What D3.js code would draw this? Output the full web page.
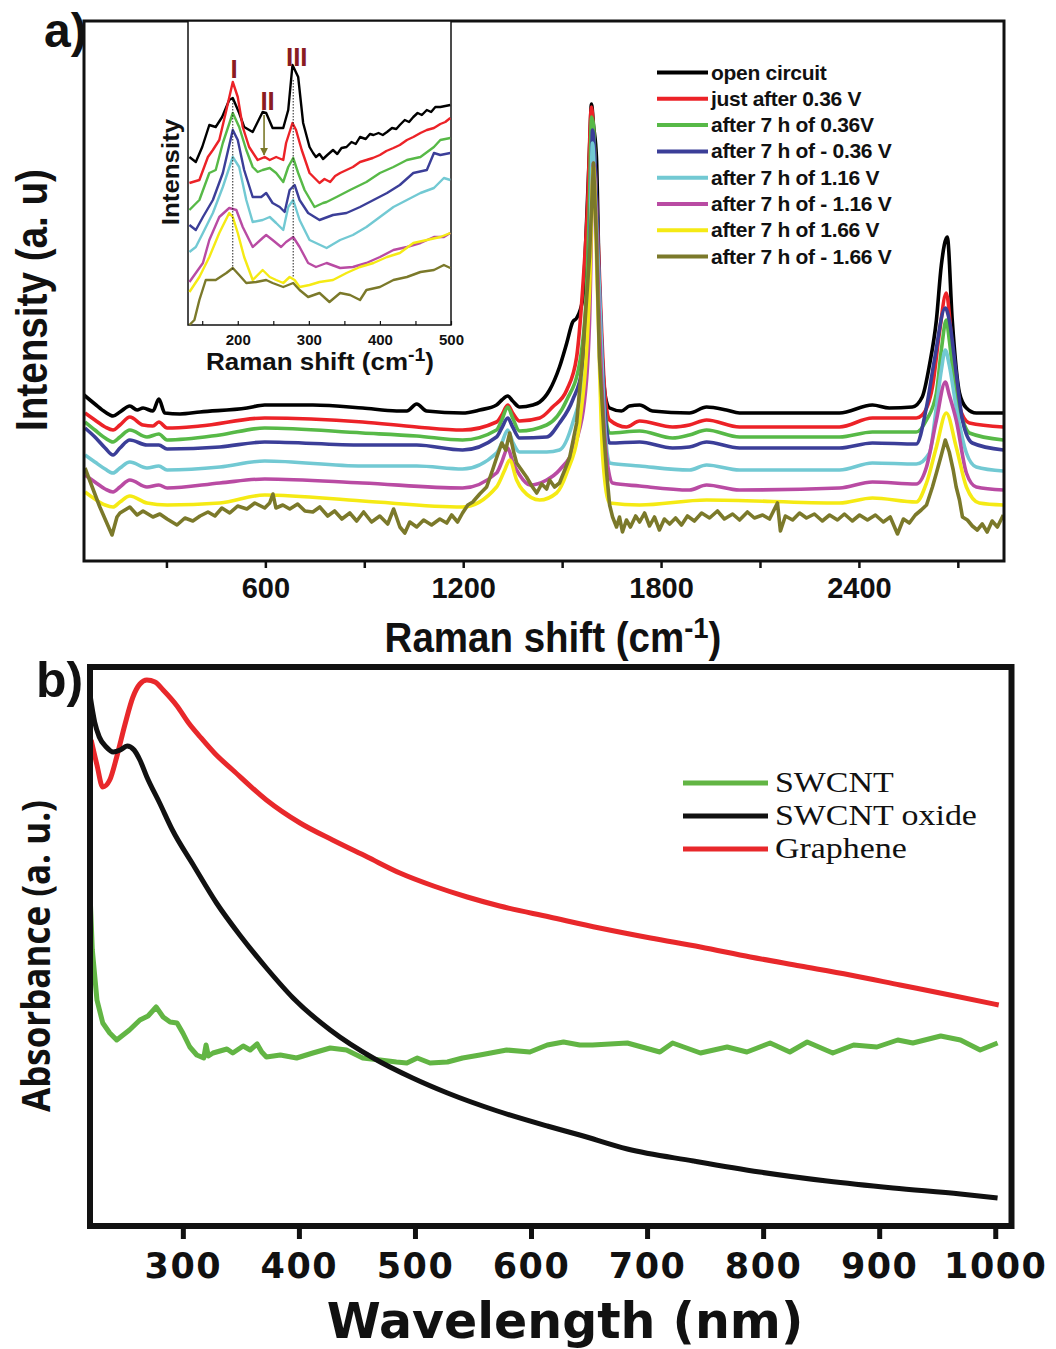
<!DOCTYPE html>
<html>
<head>
<meta charset="utf-8">
<script src="https://cdn.jsdelivr.net/npm/d3@7"></script>
<style>
  body { margin: 0; background: #fff; }
  svg text { font-family: "Liberation Sans", Arial, sans-serif; font-weight: bold; fill: #111; }
</style>
</head>
<body>
<svg id="fig" width="1056" height="1349"></svg>
<script>
// ---------------- Panel a: Raman spectra, [wavenumber cm-1, intensity a.u.] ----------------
const ramanOpenCircuit = [[50,166],[83,157],[114,149],[138,145],[159,149],[189,155],[211,151],[229,153],[259,150],[277,162],[295,148],[341,147],[402,149],[544,153],[598,156],[744,156],[895,153],[998,150],[1029,150],[1059,157],[1089,150],[1198,148],[1250,151],[1301,156],[1317,161],[1335,165],[1350,160],[1371,154],[1411,156],[1432,159],[1462,171],[1492,194],[1514,218],[1532,239],[1544,243],[1562,261],[1574,338],[1583,411],[1589,457],[1595,436],[1604,404],[1613,271],[1623,194],[1632,163],[1644,153],[1680,150],[1704,155],[1735,156],[1774,150],[1886,148],[1938,154],[1998,151],[2038,148],[2341,148],[2441,156],[2492,153],[2562,154],[2592,164],[2614,196],[2635,241],[2650,296],[2668,324],[2683,241],[2705,168],[2726,153],[2756,148],[2838,148]];
const ramanJustAfter036 = [[53,148],[83,141],[114,134],[138,131],[159,136],[189,144],[229,136],[259,135],[277,139],[302,133],[402,135],[598,143],[895,139],[1059,134],[1198,131],[1301,139],[1317,146],[1335,156],[1350,148],[1371,140],[1432,143],[1471,154],[1514,171],[1544,204],[1562,271],[1577,354],[1589,454],[1595,431],[1607,338],[1629,171],[1644,141],[1695,134],[1735,140],[1835,134],[1886,136],[1938,141],[2038,134],[2341,134],[2441,143],[2574,143],[2592,146],[2623,174],[2644,228],[2665,268],[2683,214],[2705,154],[2735,138],[2838,134]];
const ramanAfter7h036 = [[53,139],[83,131],[114,123],[138,119],[159,124],[189,131],[241,124],[277,127],[302,121],[462,126],[598,133],[895,128],[1059,125],[1198,121],[1301,131],[1317,141],[1335,154],[1350,143],[1371,130],[1453,136],[1514,161],[1553,198],[1574,271],[1583,361],[1589,444],[1595,436],[1607,304],[1629,154],[1644,128],[1735,130],[1835,123],[1886,126],[1938,131],[2038,124],[2341,124],[2441,129],[2574,129],[2605,141],[2635,168],[2650,211],[2665,241],[2674,221],[2695,161],[2714,141],[2735,128],[2838,121]];
const ramanAfter7hM036 = [[53,133],[83,124],[114,113],[138,106],[159,113],[189,121],[241,116],[277,116],[302,112],[462,114],[598,119],[895,116],[1059,116],[1198,111],[1301,124],[1317,133],[1335,143],[1350,134],[1371,123],[1453,124],[1492,138],[1532,161],[1562,194],[1580,271],[1589,391],[1592,431],[1601,391],[1610,304],[1629,154],[1644,118],[1735,119],[1835,113],[1886,114],[1938,119],[2038,113],[2341,113],[2441,118],[2574,117],[2605,154],[2629,201],[2662,253],[2674,241],[2695,188],[2714,141],[2744,118],[2838,111]];
const ramanAfter7h116 = [[53,106],[83,99],[114,92],[138,88],[159,93],[189,99],[241,93],[277,95],[302,91],[462,94],[598,100],[895,95],[1059,95],[1198,92],[1301,108],[1317,118],[1335,131],[1350,119],[1371,109],[1453,109],[1492,111],[1532,138],[1574,204],[1583,281],[1592,418],[1601,361],[1613,271],[1629,138],[1644,98],[1735,95],[1886,91],[1938,96],[2038,91],[2341,91],[2441,98],[2574,97],[2614,108],[2635,154],[2650,191],[2662,211],[2674,196],[2695,154],[2726,108],[2756,94],[2838,90]];
const ramanAfter7hM116 = [[53,86],[83,79],[114,72],[138,69],[159,74],[189,81],[241,74],[277,76],[302,73],[462,78],[598,82],[895,78],[1198,73],[1301,88],[1317,99],[1335,113],[1350,99],[1371,86],[1402,76],[1453,81],[1492,91],[1544,121],[1574,181],[1583,238],[1595,398],[1604,331],[1613,238],[1635,104],[1653,78],[1735,75],[1886,71],[1938,76],[2038,71],[2341,73],[2441,79],[2574,77],[2605,94],[2635,141],[2662,179],[2674,166],[2695,141],[2726,88],[2756,74],[2838,71]];
const ramanAfter7h166 = [[53,69],[83,62],[114,56],[138,54],[159,59],[189,65],[241,58],[302,56],[462,58],[598,66],[895,60],[1198,54],[1301,74],[1326,91],[1341,101],[1362,81],[1380,71],[1432,61],[1483,68],[1514,88],[1553,138],[1583,271],[1595,394],[1607,271],[1623,104],[1644,58],[1735,56],[1938,61],[2341,58],[2441,63],[2574,59],[2605,78],[2635,114],[2665,148],[2695,114],[2726,74],[2765,58],[2838,56]];
const ramanAfter7hM166 = [[53,93],[98,54],[135,26],[150,44],[159,48],[189,54],[211,46],[229,50],[259,44],[280,47],[302,42],[332,36],[356,43],[380,40],[402,45],[426,49],[447,45],[468,53],[492,48],[516,55],[544,52],[568,58],[598,53],[613,58],[623,67],[632,53],[653,56],[674,52],[698,57],[720,50],[744,49],[765,54],[789,45],[810,50],[832,42],[856,48],[877,40],[898,49],[922,39],[947,45],[971,37],[989,52],[1008,34],[1023,28],[1038,39],[1059,34],[1080,41],[1104,36],[1129,42],[1150,38],[1165,46],[1183,39],[1198,48],[1214,56],[1229,59],[1250,67],[1271,74],[1289,91],[1301,103],[1317,118],[1329,111],[1341,128],[1353,109],[1362,98],[1377,91],[1392,84],[1408,75],[1423,68],[1438,77],[1453,72],[1462,81],[1477,74],[1492,78],[1508,91],[1523,104],[1544,138],[1562,204],[1583,304],[1595,398],[1604,321],[1613,204],[1626,131],[1635,88],[1644,56],[1653,44],[1665,34],[1674,44],[1683,29],[1695,41],[1707,34],[1723,45],[1735,39],[1750,48],[1765,35],[1780,44],[1795,31],[1810,42],[1826,37],[1844,43],[1862,36],[1880,45],[1901,40],[1923,48],[1947,43],[1971,50],[1992,42],[2017,47],[2038,41],[2062,49],[2083,43],[2108,46],[2129,42],[2153,58],[2162,30],[2177,45],[2199,41],[2220,48],[2241,43],[2265,47],[2289,40],[2311,46],[2335,41],[2356,47],[2380,40],[2402,46],[2426,41],[2450,46],[2474,39],[2495,44],[2517,27],[2535,42],[2553,38],[2571,46],[2589,51],[2605,56],[2623,74],[2635,88],[2650,106],[2662,121],[2674,109],[2686,91],[2695,74],[2705,61],[2714,44],[2729,41],[2744,35],[2759,31],[2774,37],[2789,29],[2804,40],[2820,34],[2838,46]];

const ramanNames = ["open circuit", "just after 0.36 V", "after 7 h of 0.36V", "after 7 h of - 0.36 V",
  "after 7 h of 1.16 V", "after 7 h of - 1.16 V", "after 7 h of 1.66 V", "after 7 h of - 1.66 V"];
const ramanColors = ["#000000", "#ec2227", "#57b947", "#3b3e98", "#72c9d3", "#b94ba3", "#f5ea14", "#7b792a"];
const ramanTicks = [300, 600, 900, 1200, 1500, 1800, 2100, 2400, 2700];
const ramanTickLabels = [600, 1200, 1800, 2400];

// Inset: low-frequency radial breathing modes, [wavenumber, intensity]
const insetOpenCircuit = [[132,168],[141,163],[150,178],[160,200],[169,198],[178,208],[188,225],[193,227],[202,212],[209,198],[221,193],[235,213],[240,212],[249,197],[264,197],[271,215],[277,260],[285,248],[292,202],[301,178],[306,172],[310,168],[315,171],[320,166],[326,170],[334,175],[340,171],[346,177],[353,178],[360,183],[366,181],[372,188],[380,186],[386,191],[391,190],[398,192],[404,190],[410,193],[417,197],[423,196],[428,200],[435,205],[441,203],[447,208],[453,212],[459,210],[466,215],[472,213],[478,218],[485,218],[492,219],[499,220]];
const insetJustAfter036 = [[132,142],[146,145],[158,168],[165,175],[174,185],[184,215],[193,243],[200,228],[207,198],[216,178],[228,165],[238,168],[245,165],[254,168],[264,165],[268,182],[277,202],[282,195],[290,175],[301,152],[315,142],[322,146],[330,143],[337,149],[344,152],[353,155],[362,158],[372,163],[381,165],[390,167],[400,170],[409,174],[419,177],[428,180],[438,185],[447,188],[457,192],[466,195],[476,197],[485,201],[492,203],[499,207]];
const insetAfter7h036 = [[132,115],[146,125],[160,152],[169,155],[179,182],[193,212],[202,198],[212,175],[221,158],[228,153],[235,155],[245,157],[254,152],[264,143],[271,158],[278,167],[285,152],[294,135],[308,118],[320,122],[325,123],[339,128],[358,135],[381,143],[400,152],[419,158],[438,165],[457,168],[476,178],[485,185],[499,187]];
const insetAfter7hM036 = [[132,100],[141,95],[151,108],[165,125],[179,152],[193,195],[200,185],[209,155],[221,128],[233,128],[240,132],[249,122],[259,118],[266,113],[273,135],[280,140],[287,125],[299,112],[315,105],[334,110],[353,112],[372,118],[391,125],[410,132],[428,140],[447,152],[466,155],[476,172],[485,170],[499,172]];
const insetAfter7h116 = [[132,73],[141,78],[151,92],[165,112],[179,138],[193,168],[202,158],[212,125],[221,103],[235,105],[245,108],[254,102],[264,95],[271,118],[278,125],[287,105],[301,85],[325,77],[344,85],[362,90],[381,98],[400,108],[419,118],[438,125],[457,132],[476,137],[490,147],[499,145]];
const insetAfter7hM116 = [[132,43],[141,52],[151,62],[160,85],[174,108],[188,117],[198,115],[207,98],[221,78],[235,87],[240,90],[249,85],[261,78],[268,83],[278,88],[287,78],[299,62],[310,58],[325,62],[344,57],[362,58],[381,62],[400,68],[419,75],[438,78],[457,82],[476,88],[490,88],[499,92]];
const insetAfter7h166 = [[132,33],[146,48],[160,68],[174,92],[188,112],[193,108],[200,92],[209,68],[221,45],[235,55],[245,48],[254,45],[264,42],[273,48],[280,45],[287,38],[301,40],[315,43],[334,45],[353,52],[372,58],[391,62],[410,68],[428,72],[447,82],[466,85],[485,88],[499,92]];
const insetAfter7hM166 = [[132,0],[139,5],[146,25],[155,45],[169,45],[184,52],[193,57],[202,50],[212,42],[226,43],[240,45],[249,42],[264,38],[278,42],[287,35],[299,28],[315,32],[329,23],[344,32],[358,30],[372,25],[381,35],[400,38],[419,45],[438,48],[457,53],[476,55],[490,60],[499,57]];
const insetTicks = [150, 200, 250, 300, 350, 400, 450, 500];
const insetTickLabels = [200, 300, 400, 500];
// RBM peak markers: [label, wavenumber, label height]
const insetPeakLabels = [["I", 195, 247], ["II", 242, 215], ["III", 283, 259]];
// dotted guides: [wavenumber, top, bottom]
const insetGuides = [[193, 225, 55], [278, 245, 48]];
// arrow on peak II: [wavenumber, from, to]
const insetArrow = [237, 210, 170];

// ---------------- Panel b: UV-vis absorbance, [wavelength nm, absorbance a.u.] ----------------
const uvSWCNT = [[220,333],[222,276],[226,226],[231,203],[237,193],[243,186],[254,196],[263,206],[270,210],[277,219],[283,209],[289,204],[295,203],[300,193],[306,179],[312,171],[318,168],[320,181],[322,170],[326,173],[332,175],[338,177],[343,173],[352,180],[358,176],[364,182],[368,174],[372,169],[384,171],[398,168],[412,173],[427,178],[441,176],[455,168],[470,166],[484,164],[493,163],[502,168],[513,163],[528,164],[541,168],[556,171],[579,176],[599,174],[614,181],[628,184],[642,181],[653,181],[683,183],[711,174],[722,183],[746,173],[769,179],[786,174],[806,183],[823,174],[838,184],[860,173],[878,181],[898,179],[916,186],[929,183],[953,190],[970,186],[987,176],[1002,183]];
const uvSWCNTOxide = [[220,531],[224,504],[228,489],[234,479],[240,474],[246,476],[252,480],[258,476],[263,466],[269,449],[280,423],[291,396],[309,361],[329,323],[349,291],[372,258],[395,228],[427,196],[464,168],[498,148],[528,133],[571,115],[614,100],[642,91],[683,77],[740,65],[797,54],[855,45],[912,38],[970,32],[1002,28]];
const uvGraphene = [[221,486],[226,461],[231,439],[237,446],[243,469],[250,501],[257,529],[263,542],[269,546],[276,544],[283,536],[295,520],[305,503],[315,489],[328,472],[343,456],[372,426],[401,403],[429,386],[459,369],[487,353],[516,340],[545,329],[573,320],[616,309],[659,298],[703,288],[746,279],[789,269],[832,260],[875,251],[918,241],[961,231],[1003,221]];
const uvNames = ["SWCNT", "SWCNT oxide", "Graphene"];
const uvColors = ["#62b544", "#111111", "#e8282b"];
const uvTicks = [300, 400, 500, 600, 700, 800, 900, 1000];

// ------------------------------------------------------------------
const svg = d3.select("#fig");

function fitText(sel, target) {
  const w = sel.node().getBBox().width;
  sel.attr("transform", `scale(${target / w},1)`);
}

// ===== Panel a =====
const xA = d3.scaleLinear().domain([50, 2840]).range([84, 1004]);
const yA = d3.scaleLinear().domain([0, 540]).range([561, 21]);

const ramanData = [ramanOpenCircuit, ramanJustAfter036, ramanAfter7h036, ramanAfter7hM036,
  ramanAfter7h116, ramanAfter7hM116, ramanAfter7h166, ramanAfter7hM166];
const ramanLine = d3.line().x(d => xA(d[0])).y(d => yA(d[1]));

const gA = svg.append("g");
ramanData.forEach((data, i) => {
  gA.append("path").datum(data)
    .attr("d", ramanLine.curve(i === 7 ? d3.curveLinear : d3.curveMonotoneX))
    .attr("fill", "none").attr("stroke", ramanColors[i])
    .attr("stroke-width", 3.6).attr("stroke-linejoin", "round");
});

// frame
gA.append("rect").attr("x", 84).attr("y", 21).attr("width", 920).attr("height", 540)
  .attr("fill", "none").attr("stroke", "#111").attr("stroke-width", 3);

const axA = gA.append("g").attr("transform", "translate(0,561)")
  .call(d3.axisBottom(xA).tickValues(ramanTicks).tickSize(7)
    .tickFormat(d => ramanTickLabels.includes(d) ? d : ""));
axA.select(".domain").remove();
axA.selectAll("line").attr("stroke", "#111").attr("stroke-width", 2.5);
axA.selectAll("text").attr("y", 37).attr("dy", 0)
  .style("font-size", "29px").style("font-family", "'Liberation Sans', Arial, sans-serif")
  .style("font-weight", "bold").attr("fill", "#111");

// axis titles
const tA = gA.append("g").attr("transform", "translate(553,652)")
  .append("text").attr("text-anchor", "middle").style("font-size", "42px");
tA.append("tspan").text("Raman shift (cm");
tA.append("tspan").attr("dy", -14).style("font-size", "30px").text("-1");
tA.append("tspan").attr("dy", 14).text(")");
fitText(tA, 337);

const tAy = gA.append("g").attr("transform", "translate(47,300) rotate(-90)")
  .append("text").attr("text-anchor", "middle").style("font-size", "44px").text("Intensity (a. u)");
fitText(tAy, 262);

svg.append("text").attr("x", 44).attr("y", 47).style("font-size", "48px").text("a)");

// legend
const legA = gA.append("g");
ramanNames.forEach((n, i) => {
  const y = 72.5 + i * 26.3;
  legA.append("line").attr("x1", 657).attr("x2", 708).attr("y1", y).attr("y2", y)
    .attr("stroke", ramanColors[i]).attr("stroke-width", 4);
  legA.append("text").attr("x", 711).attr("y", y + 7).style("font-size", "21px")
    .style("letter-spacing", "-0.3px").text(n);
});

// ===== Inset =====
const xI = d3.scaleLinear().domain([130, 500]).range([188, 451]);
const yI = d3.scaleLinear().domain([0, 304]).range([325, 21]);
const gI = svg.append("g");
gI.append("rect").attr("x", 188).attr("y", 21).attr("width", 263).attr("height", 304)
  .attr("fill", "#fff").attr("stroke", "#111").attr("stroke-width", 1.5);

const insetData = [insetOpenCircuit, insetJustAfter036, insetAfter7h036, insetAfter7hM036,
  insetAfter7h116, insetAfter7hM116, insetAfter7h166, insetAfter7hM166];
const insetLine = d3.line().x(d => xI(d[0])).y(d => yI(d[1]));
insetData.forEach((data, i) => {
  gI.append("path").datum(data).attr("d", insetLine)
    .attr("fill", "none").attr("stroke", ramanColors[i])
    .attr("stroke-width", 2.4).attr("stroke-linejoin", "round");
});

insetGuides.forEach(g => {
  gI.append("line").attr("x1", xI(g[0])).attr("x2", xI(g[0]))
    .attr("y1", yI(g[1])).attr("y2", yI(g[2]))
    .attr("stroke", "#222").attr("stroke-width", 1).attr("stroke-dasharray", "1.5,1.5");
});

svg.append("defs").append("marker").attr("id", "arrowHead")
  .attr("viewBox", "0 0 10 10").attr("refX", 9).attr("refY", 5)
  .attr("markerWidth", 5).attr("markerHeight", 5).attr("orient", "auto")
  .append("path").attr("d", "M0,0 L10,5 L0,10 Z").attr("fill", ramanColors[7]);
gI.append("line").attr("x1", xI(insetArrow[0])).attr("x2", xI(insetArrow[0]))
  .attr("y1", yI(insetArrow[1])).attr("y2", yI(insetArrow[2]))
  .attr("stroke", ramanColors[7]).attr("stroke-width", 1.6).attr("marker-end", "url(#arrowHead)");

insetPeakLabels.forEach(p => {
  gI.append("text").attr("x", xI(p[1])).attr("y", yI(p[2])).attr("text-anchor", "middle")
    .style("font-size", "26px").style("fill", "#8a1c22").text(p[0]);
});

const axI = gI.append("g").attr("transform", "translate(0,325)")
  .call(d3.axisBottom(xI).tickValues(insetTicks).tickSize(-4)
    .tickFormat(d => insetTickLabels.includes(d) ? d : ""));
axI.select(".domain").remove();
axI.selectAll("line").attr("stroke", "#111").attr("stroke-width", 1.2);
axI.selectAll("text").attr("y", 20).attr("dy", 0)
  .style("font-size", "15px").style("font-family", "'Liberation Sans', Arial, sans-serif")
  .style("font-weight", "bold").attr("fill", "#111");

const tI = gI.append("g").attr("transform", "translate(320,370)")
  .append("text").attr("text-anchor", "middle").style("font-size", "24px");
tI.append("tspan").text("Raman shift (cm");
tI.append("tspan").attr("dy", -9).style("font-size", "18px").text("-1");
tI.append("tspan").attr("dy", 9).text(")");
fitText(tI, 228);

const tIy = gI.append("g").attr("transform", "translate(179,172) rotate(-90)")
  .append("text").attr("text-anchor", "middle").style("font-size", "24px").text("Intensity");
fitText(tIy, 107);

// ===== Panel b =====
const xB = d3.scaleLinear().domain([220, 1014]).range([90, 1011.5]);
const yB = d3.scaleLinear().domain([0, 559]).range([1226, 667]);
const gB = svg.append("g");
const uvData = [uvSWCNT, uvSWCNTOxide, uvGraphene];
const uvLine = d3.line().x(d => xB(d[0])).y(d => yB(d[1]));
[0, 2, 1].forEach(i => {
  gB.append("path").datum(uvData[i])
    .attr("d", uvLine.curve(i === 0 ? d3.curveLinear : d3.curveMonotoneX))
    .attr("fill", "none").attr("stroke", uvColors[i])
    .attr("stroke-width", 5).attr("stroke-linejoin", "round");
});

gB.append("rect").attr("x", 90).attr("y", 667).attr("width", 921.5).attr("height", 559)
  .attr("fill", "none").attr("stroke", "#111").attr("stroke-width", 6);

const axB = gB.append("g").attr("transform", "translate(0,1226)")
  .call(d3.axisBottom(xB).tickValues(uvTicks).tickSize(13).tickFormat(d3.format("d")));
axB.select(".domain").remove();
axB.selectAll("line").attr("stroke", "#111").attr("stroke-width", 5);
axB.selectAll("text").attr("y", 52).attr("dy", 0)
  .style("font-size", "35px").style("font-family", "'DejaVu Sans', Verdana, sans-serif")
  .style("font-weight", "bold").style("letter-spacing", "1.5px").attr("fill", "#111");

gB.append("text").attr("x", 565).attr("y", 1338).attr("text-anchor", "middle")
  .style("font-family", "'DejaVu Sans', Verdana, sans-serif").style("font-size", "49px")
  .text("Wavelength (nm)");

const tBy = gB.append("g").attr("transform", "translate(50,956) rotate(-90)")
  .append("text").attr("text-anchor", "middle")
  .style("font-family", "'Open Sans', 'DejaVu Sans', sans-serif").style("font-size", "40px")
  .text("Absorbance (a. u.)");
fitText(tBy, 312);

svg.append("text").attr("x", 36).attr("y", 697).style("font-size", "50px").text("b)");

const legB = gB.append("g");
uvNames.forEach((n, i) => {
  const y = 783 + i * 33;
  legB.append("line").attr("x1", 683).attr("x2", 768).attr("y1", y).attr("y2", y)
    .attr("stroke", uvColors[i]).attr("stroke-width", 5);
  legB.append("g").attr("transform", `translate(775,${y + 9})`)
    .append("text").attr("transform", "scale(1.17,1)")
    .style("font-family", "'Liberation Serif', 'Times New Roman', serif")
    .style("font-weight", "normal").style("font-size", "29px").text(n);
});
</script>
</body>
</html>
